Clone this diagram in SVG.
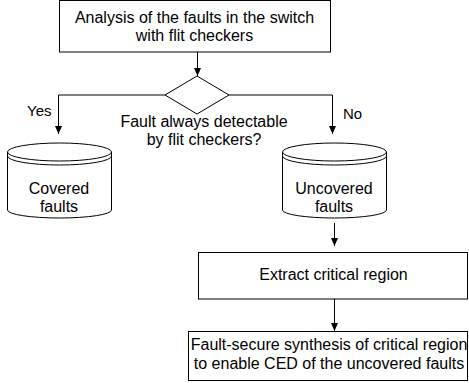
<svg xmlns="http://www.w3.org/2000/svg" width="469" height="383" viewBox="0 0 469 383">
  <style>
    .shape { fill: #ffffff; stroke: #000000; stroke-width: 1; }
    .rim { fill: none; stroke: #000000; stroke-width: 1; }
    .wire { fill: none; stroke: #000000; stroke-width: 1; }
    text { font-family: "Liberation Sans", Arial, sans-serif; font-size: 16px; fill: #000000; }
    .c { text-anchor: middle; }
    .tag { font-size: 15px; }
  </style>
  <defs>
    <marker id="arrow" viewBox="0 0 8 8" refX="8" refY="4" markerWidth="8" markerHeight="8" markerUnits="userSpaceOnUse" orient="auto">
      <path d="M0,0.5 L8,4 L0,7.5 Z" fill="#000000"/>
    </marker>
  </defs>
  <rect width="469" height="383" fill="#ffffff"/>

  <g id="connectors">
    <line class="wire" x1="197.5" y1="52" x2="197.5" y2="76" marker-end="url(#arrow)"/>
    <polyline class="wire" points="165,95 58.5,95 58.5,134" marker-end="url(#arrow)"/>
    <polyline class="wire" points="229,95 332.5,95 332.5,134" marker-end="url(#arrow)"/>
    <line class="wire" x1="334.5" y1="223" x2="334.5" y2="246" marker-end="url(#arrow)"/>
    <line class="wire" x1="334.5" y1="299" x2="334.5" y2="331" marker-end="url(#arrow)"/>
    <text class="tag" x="27" y="116">Yes</text>
    <text class="tag" x="343" y="119">No</text>
  </g>

  <g id="analysis">
    <rect class="shape" x="59.5" y="0.5" width="271" height="51.5"/>
    <text class="c" x="194.5" y="23">Analysis of the faults in the switch</text>
    <text class="c" x="194.5" y="41">with flit checkers</text>
  </g>

  <g id="decision">
    <polygon class="shape" points="197,76 229,95 197,114 165,95"/>
    <text class="c" x="204" y="127">Fault always detectable</text>
    <text class="c" x="204" y="145">by flit checkers?</text>
  </g>

  <g id="covered">
    <path class="shape" d="M7.5,152 L7.5,210 A52,8 0 0 0 111.5,210 L111.5,152 A52,9 0 0 0 7.5,152 Z"/>
    <path class="rim" d="M7.5,152 A52,9 0 0 0 111.5,152"/>
    <path class="rim" d="M7.5,156 A52,9 0 0 0 111.5,156"/>
    <text class="c" x="59" y="194">Covered</text>
    <text class="c" x="59" y="212">faults</text>
  </g>

  <g id="uncovered">
    <path class="shape" d="M282.5,152 L282.5,210 A52,8 0 0 0 386.5,210 L386.5,152 A52,9 0 0 0 282.5,152 Z"/>
    <path class="rim" d="M282.5,152 A52,9 0 0 0 386.5,152"/>
    <path class="rim" d="M282.5,156 A52,9 0 0 0 386.5,156"/>
    <text class="c" x="334" y="194">Uncovered</text>
    <text class="c" x="334" y="212">faults</text>
  </g>

  <g id="extract">
    <rect class="shape" x="198.5" y="252.5" width="269" height="46.5"/>
    <text class="c" x="333.5" y="280">Extract critical region</text>
  </g>

  <g id="synthesis">
    <rect class="shape" x="188.5" y="331.5" width="279" height="49"/>
    <text class="c" x="329" y="350">Fault-secure synthesis of critical region</text>
    <text class="c" x="329" y="369">to enable CED of the uncovered faults</text>
  </g>
</svg>
